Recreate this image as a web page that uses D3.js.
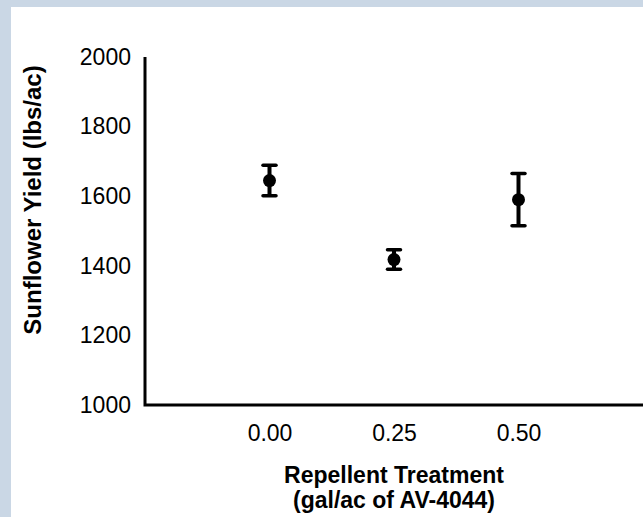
<!doctype html>
<html lang="en">
<head>
<meta charset="utf-8">
<script src="https://d3js.org/d3.v7.min.js"></script>
<style>
  html, body { margin: 0; padding: 0; background: #cad7e5; }
  svg { display: block; }
  text { font-family: "Liberation Sans", Arial, sans-serif; fill: #000; }
</style>
</head>
<body>
<div id="chart"></div>
<script>
const treatments = ['0.00', '0.25', '0.50'];
const yieldMeans = [1645, 1418, 1590];
const yieldErrors = [44, 28, 75];
const yTicks = [1000, 1200, 1400, 1600, 1800, 2000];

const width = 643, height = 517;
const margin = {left: 145, top: 57, bottom: 112};

const svg = d3.select('#chart').append('svg')
  .attr('width', width)
  .attr('height', height);

// white panel inside the blue frame
svg.append('rect')
  .attr('x', 11).attr('y', 7)
  .attr('width', width - 11).attr('height', height - 7)
  .attr('fill', '#fff');

const x = d3.scaleLinear()
  .domain([0, treatments.length + 1])
  .range([margin.left, width]);

const y = d3.scaleLinear()
  .domain([1000, 2000])
  .range([height - margin.bottom, margin.top]);

// y axis
const yAxis = d3.axisLeft(y).tickValues(yTicks).tickFormat(d3.format('d')).tickSize(0).tickPadding(14);
const gy = svg.append('g')
  .attr('transform', 'translate(' + margin.left + ',0)')
  .call(yAxis);
gy.select('.domain').remove();
gy.selectAll('text').attr('font-size', 23).attr('font-family', '"Liberation Sans", Arial, sans-serif');

// x axis labels
const xAxis = d3.axisBottom(x)
  .tickValues(treatments.map((d, i) => i + 1))
  .tickFormat((d, i) => treatments[i])
  .tickSize(0).tickPadding(20);
const gx = svg.append('g')
  .attr('transform', 'translate(0,' + y(1000) + ')')
  .call(xAxis);
gx.select('.domain').remove();
gx.selectAll('text').attr('font-size', 23).attr('font-family', '"Liberation Sans", Arial, sans-serif');

// axis lines
svg.append('path')
  .attr('d', 'M' + margin.left + ',' + y(2000) + 'V' + y(1000) + 'H' + width)
  .attr('fill', 'none')
  .attr('stroke', '#000')
  .attr('stroke-width', 3);

// error bars
const pts = svg.append('g').selectAll('g')
  .data(yieldMeans)
  .enter().append('g');

pts.append('line')
  .attr('x1', (d, i) => x(i + 1)).attr('x2', (d, i) => x(i + 1))
  .attr('y1', (d, i) => y(d + yieldErrors[i]))
  .attr('y2', (d, i) => y(d - yieldErrors[i]))
  .attr('stroke', '#000').attr('stroke-width', 4);

[1, -1].forEach(s => {
  pts.append('line')
    .attr('x1', (d, i) => x(i + 1) - 6.5).attr('x2', (d, i) => x(i + 1) + 6.5)
    .attr('y1', (d, i) => y(d + s * yieldErrors[i]))
    .attr('y2', (d, i) => y(d + s * yieldErrors[i]))
    .attr('stroke', '#000').attr('stroke-width', 3.5)
    .attr('stroke-linecap', 'round');
});

pts.append('circle')
  .attr('cx', (d, i) => x(i + 1))
  .attr('cy', d => y(d))
  .attr('r', 6.5)
  .attr('fill', '#000');

// axis titles
svg.append('text')
  .attr('transform', 'translate(41,' + 200 + ') rotate(-90)')
  .attr('text-anchor', 'middle')
  .attr('font-size', 24)
  .attr('font-weight', 'bold')
  .text('Sunflower Yield (lbs/ac)');

const xt = svg.append('text')
  .attr('text-anchor', 'middle')
  .attr('font-size', 23)
  .attr('font-weight', 'bold');
xt.append('tspan').attr('x', x(2)).attr('y', 483).text('Repellent Treatment');
xt.append('tspan').attr('x', x(2)).attr('y', 508).text('(gal/ac of AV-4044)');
</script>
</body>
</html>
